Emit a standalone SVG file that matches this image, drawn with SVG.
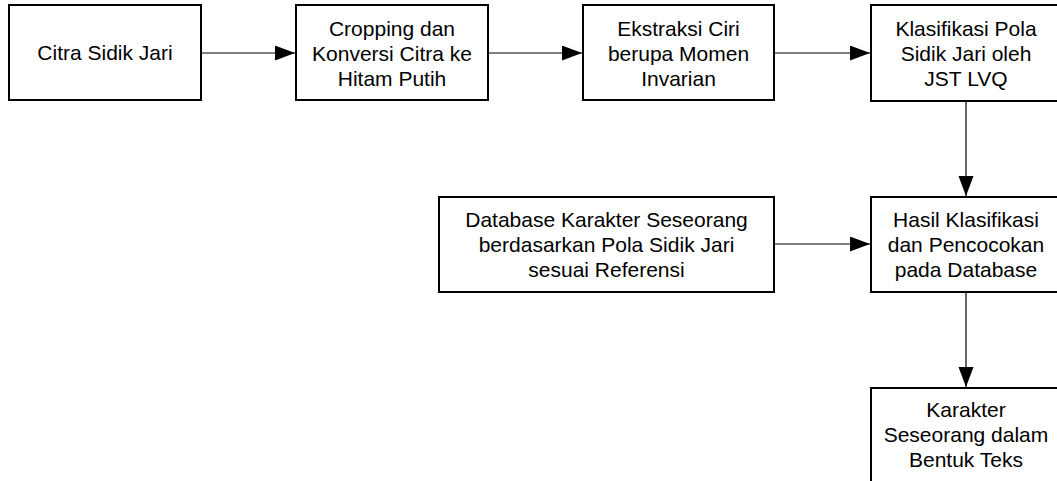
<svg xmlns="http://www.w3.org/2000/svg" width="1057" height="481" viewBox="0 0 1057 481">
  <style>
    .box { fill: #ffffff; stroke: #000000; stroke-width: 2; }
    .lbl { font-family: "Liberation Sans", Arial, sans-serif; font-size: 21px; fill: #000000; text-anchor: middle; }
    .conn { stroke: #000000; stroke-width: 1.2; fill: none; marker-end: url(#arrow); }
  </style>
  <defs>
    <marker id="arrow" markerUnits="userSpaceOnUse" markerWidth="21" markerHeight="16" refX="20" refY="7.5" orient="auto">
      <path d="M0,0 L20,7.5 L0,15 Z" fill="#000000"/>
    </marker>
  </defs>
  <rect width="1057" height="481" fill="#ffffff"/>

  <g id="connectors">
    <line class="conn" x1="201" y1="53" x2="295" y2="53"/>
    <line class="conn" x1="488" y1="53" x2="582" y2="53"/>
    <line class="conn" x1="774" y1="53" x2="870" y2="53"/>
    <line class="conn" x1="966" y1="101" x2="966" y2="196"/>
    <line class="conn" x1="774" y1="244" x2="870" y2="244"/>
    <line class="conn" x1="966" y1="292" x2="966" y2="387"/>
  </g>

  <g id="node-citra">
    <rect class="box" x="9" y="5" width="192" height="95"/>
    <text class="lbl" x="105" y="60">Citra Sidik Jari</text>
  </g>

  <g id="node-cropping">
    <rect class="box" x="296" y="5" width="192" height="95"/>
    <text class="lbl" x="392" y="36">Cropping dan</text>
    <text class="lbl" x="392" y="61">Konversi Citra ke</text>
    <text class="lbl" x="392" y="86">Hitam Putih</text>
  </g>

  <g id="node-ekstraksi">
    <rect class="box" x="583" y="5" width="191" height="95"/>
    <text class="lbl" x="678.5" y="36">Ekstraksi Ciri</text>
    <text class="lbl" x="678.5" y="61">berupa Momen</text>
    <text class="lbl" x="678.5" y="86">Invarian</text>
  </g>

  <g id="node-klasifikasi">
    <rect class="box" x="871" y="5" width="190" height="96"/>
    <text class="lbl" x="966" y="36">Klasifikasi Pola</text>
    <text class="lbl" x="966" y="61">Sidik Jari oleh</text>
    <text class="lbl" x="966" y="86">JST LVQ</text>
  </g>

  <g id="node-database">
    <rect class="box" x="439" y="197" width="335" height="95"/>
    <text class="lbl" x="606.5" y="227">Database Karakter Seseorang</text>
    <text class="lbl" x="606.5" y="252">berdasarkan Pola Sidik Jari</text>
    <text class="lbl" x="606.5" y="277">sesuai Referensi</text>
  </g>

  <g id="node-hasil">
    <rect class="box" x="871" y="197" width="190" height="95"/>
    <text class="lbl" x="966" y="227">Hasil Klasifikasi</text>
    <text class="lbl" x="966" y="252">dan Pencocokan</text>
    <text class="lbl" x="966" y="277">pada Database</text>
  </g>

  <g id="node-karakter">
    <rect class="box" x="871" y="388" width="190" height="95"/>
    <text class="lbl" x="966" y="417">Karakter</text>
    <text class="lbl" x="966" y="442">Seseorang dalam</text>
    <text class="lbl" x="966" y="467">Bentuk Teks</text>
  </g>
</svg>
